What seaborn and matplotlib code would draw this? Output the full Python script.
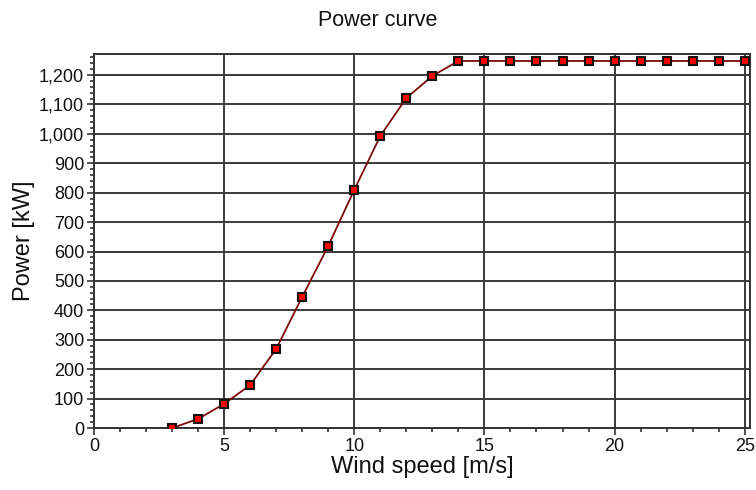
import matplotlib
matplotlib.use("Agg")
import matplotlib.pyplot as plt
import seaborn as sns
import pandas as pd
from matplotlib.ticker import MultipleLocator, FuncFormatter

wind_speed = [3, 4, 5, 6, 7, 8, 9, 10, 11, 12, 13, 14, 15, 16, 17, 18, 19, 20, 21, 22, 23, 24, 25]
power_kw = [0, 31, 82, 146, 269, 446, 619, 810, 993, 1122, 1197, 1248, 1248, 1248, 1248, 1248,
            1248, 1248, 1248, 1248, 1248, 1248, 1248]

df = pd.DataFrame({"Wind speed": wind_speed, "Power": power_kw})

sns.set_style("white")
plt.rcParams["font.family"] = ["Liberation Sans", "DejaVu Sans"]
plt.rcParams["text.color"] = "#111111"
plt.rcParams["axes.labelcolor"] = "#111111"
plt.rcParams["xtick.color"] = "#111111"
plt.rcParams["ytick.color"] = "#111111"

fig = plt.figure(figsize=(7.56, 4.9), dpi=100)
ax = fig.add_axes([0.1243, 0.1265, 0.8677, 0.7635])

sns.lineplot(data=df, x="Wind speed", y="Power", ax=ax, color="#7a0a0a", linewidth=1.3,
             marker="s", markersize=5.5, markerfacecolor="#ff0000", markeredgecolor="#111111",
             markeredgewidth=1.5, zorder=5)

ax.set_xlim(0, 25.2)
ax.set_ylim(0, 1272)
ax.xaxis.set_major_locator(MultipleLocator(5))
ax.xaxis.set_minor_locator(MultipleLocator(1))
ax.yaxis.set_major_locator(MultipleLocator(100))
ax.yaxis.set_minor_locator(MultipleLocator(20))
ax.yaxis.set_major_formatter(FuncFormatter(lambda v, p: f"{int(v):,}"))

ax.grid(True, which="major", color="#3a3a3a", linewidth=1.4)
ax.set_axisbelow(True)
for s in ax.spines.values():
    s.set_color("#333333")
    s.set_linewidth(1.4)

ax.tick_params(axis="both", which="major", direction="out", length=5, width=1.2,
               color="#333333", labelcolor="#111111", labelsize=13, pad=2, bottom=True, left=True)
ax.tick_params(axis="both", which="minor", direction="out", length=3, width=1.2,
               color="#333333", bottom=True, left=True)

ax.set_xlabel("Wind speed [m/s]", fontsize=17, labelpad=1)
ax.set_ylabel("Power [kW]", fontsize=17, labelpad=3)
fig.text(0.5, 1 - 20 / 490, "Power curve", fontsize=15.5, ha="center", va="center")

fig.savefig("out.png", dpi=100)
